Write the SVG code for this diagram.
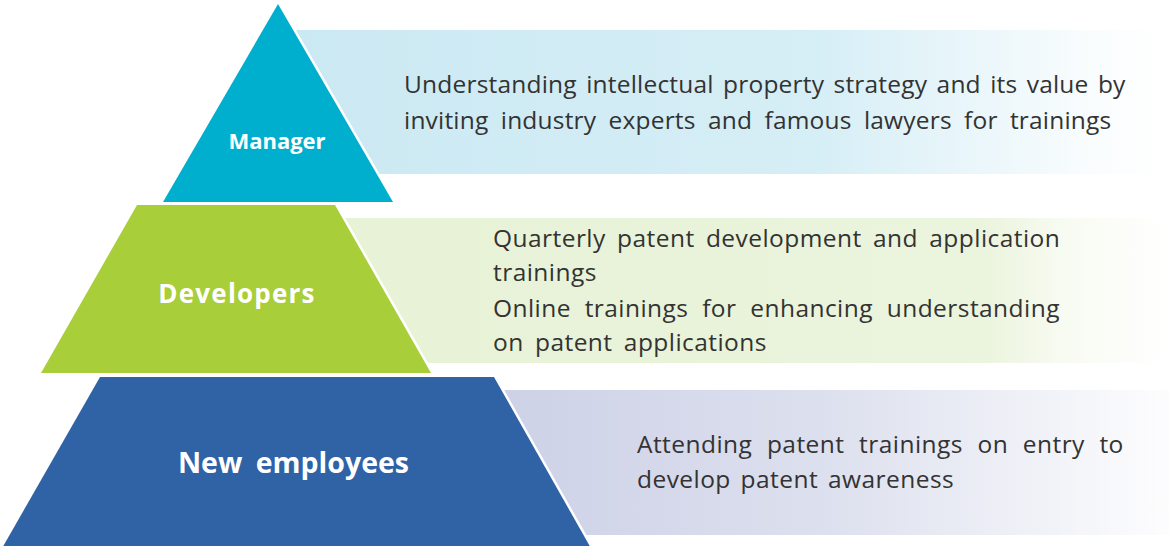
<svg xmlns="http://www.w3.org/2000/svg" width="1169" height="546" viewBox="0 0 1169 546">
<style>
.shape{stroke:#fff;stroke-width:5;stroke-linejoin:miter;paint-order:stroke}
.lbl{font-family:"Open Sans","Liberation Sans",sans-serif;font-weight:bold;fill:#fff;text-anchor:middle}
.desc{font-family:"Open Sans","Liberation Sans",sans-serif;font-size:24.5px;letter-spacing:0.45px;fill:#333}
.desc.tight{letter-spacing:0.2px}
</style>
<defs>
<linearGradient id="gBlue" x1="0" y1="0" x2="1" y2="0">
<stop offset="0" stop-color="#CBE9F3"/>
<stop offset="0.6" stop-color="#D6EEF6"/>
<stop offset="0.92" stop-color="#FAFDFE"/>
<stop offset="1" stop-color="#FFFFFF"/>
</linearGradient>
<linearGradient id="gGreen" x1="0" y1="0" x2="1" y2="0">
<stop offset="0" stop-color="#E7F2D6"/>
<stop offset="0.78" stop-color="#EBF4DD"/>
<stop offset="0.88" stop-color="#F8FBF2"/>
<stop offset="1" stop-color="#FFFFFF"/>
</linearGradient>
<linearGradient id="gLav" x1="0" y1="0" x2="1" y2="0">
<stop offset="0" stop-color="#CDD1E7"/>
<stop offset="0.5" stop-color="#DDE0EE"/>
<stop offset="1" stop-color="#FDFDFE"/>
</linearGradient>
</defs>
<rect width="1169" height="546" fill="#fff"/>
<g id="manager">
<rect x="290" y="30" width="879" height="144" fill="url(#gBlue)"/>
<polygon class="shape" points="278,4 163,202 393,202" fill="#00AFCD"/>
<text class="lbl" x="277" y="149" font-size="22">Manager</text>
<text class="desc tight"><tspan x="404" y="93" word-spacing="2.8">Understanding intellectual property strategy and its value by</tspan><tspan x="404" y="128.5" word-spacing="5.7">inviting industry experts and famous lawyers for trainings</tspan></text>
</g>
<g id="developers">
<rect x="330" y="218" width="836" height="145" fill="url(#gGreen)"/>
<polygon class="shape" points="137,205 335,205 431,373 41,373" fill="#A8CE3A"/>
<text class="lbl" x="237" y="303" font-size="26" letter-spacing="1.2">Developers</text>
<text class="desc"><tspan x="493" y="246.5" word-spacing="4.5">Quarterly patent development and application</tspan><tspan x="493" y="281">trainings</tspan><tspan x="493" y="316.5" word-spacing="6.9">Online trainings for enhancing understanding</tspan><tspan x="493" y="351" word-spacing="4.5">on patent applications</tspan></text>
</g>
<g id="new-employees">
<rect x="490" y="390" width="679" height="145" fill="url(#gLav)"/>
<polygon class="shape" points="100,377 494,377 592,550 1,550" fill="#3062A6"/>
<text class="lbl" x="293.5" y="473" font-size="28.5" word-spacing="6">New employees</text>
<text class="desc"><tspan x="637" y="452.5" word-spacing="7.8">Attending patent trainings on entry to</tspan><tspan x="637" y="488" word-spacing="3">develop patent awareness</tspan></text>
</g>
<g id="connectors"/>
</svg>
